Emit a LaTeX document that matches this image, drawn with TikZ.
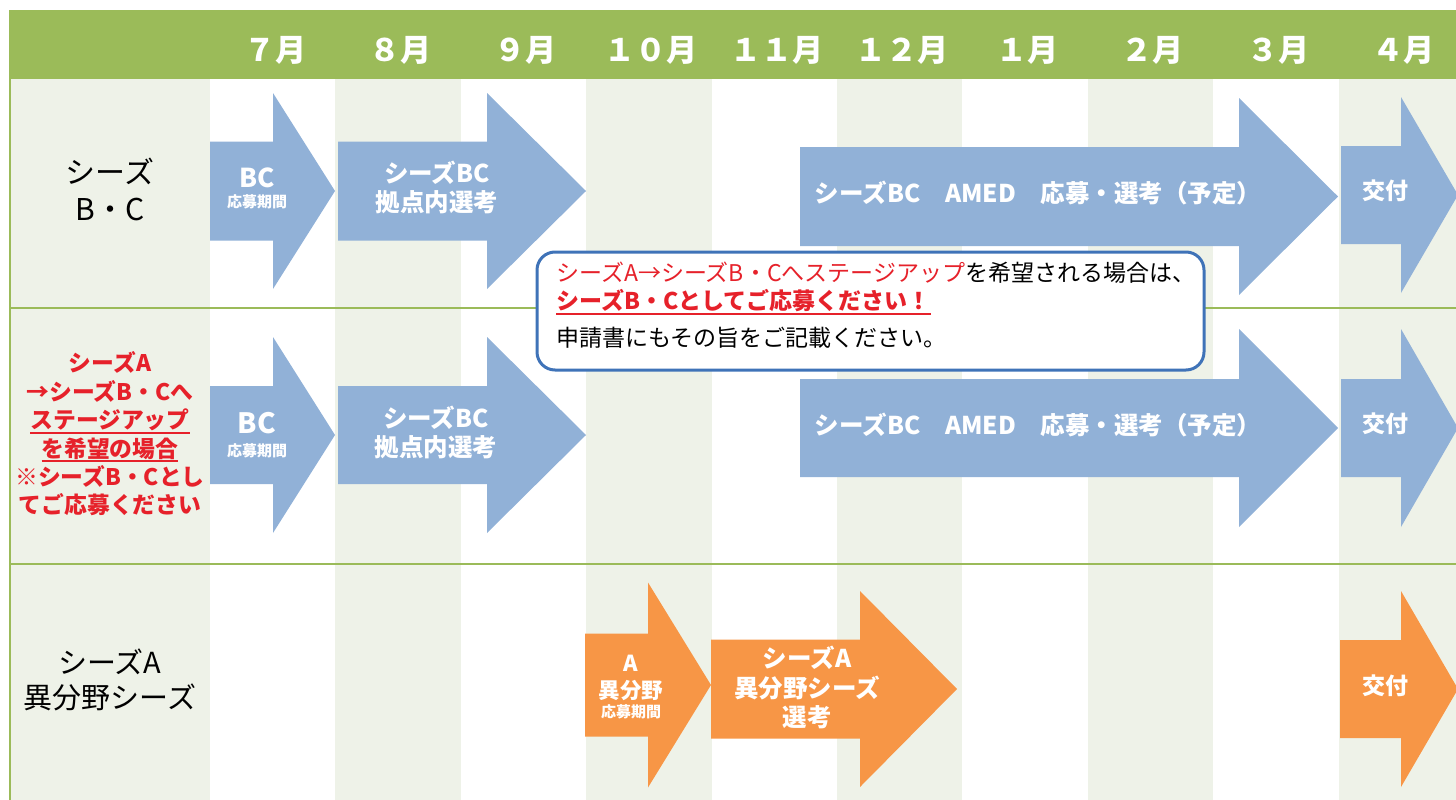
\documentclass[tikz,border=0pt]{standalone}
\usepackage{fontspec}
\setmainfont{Noto Sans CJK JP}

\definecolor{headgreen}{HTML}{9BBB59}
\definecolor{stripegray}{HTML}{EEF2E8}
\definecolor{bcblue}{HTML}{91B1D7}
\definecolor{aorange}{HTML}{F79646}
\definecolor{alertred}{HTML}{E6212A}
\definecolor{calloutblue}{HTML}{3F73B8}

% block arrow: colour, x start, x neck, x tip, y centre, half shaft, half head
\newcommand{\blockarrow}[7]{%
  \fill[#1] (#2,#5-#6) -- (#3,#5-#6) -- (#3,#5-#7) -- (#4,#5)
    -- (#3,#5+#7) -- (#3,#5+#6) -- (#2,#5+#6) -- cycle ;}
% thick red underline
\newcommand{\redul}[1]{\setbox0\hbox{#1}\rlap{\textcolor{alertred}{\rule[-5pt]{\wd0}{2pt}}}\box0}

\tikzset{
  month/.style={text=white,inner sep=0pt,font=\fontsize{31}{36}\selectfont\bfseries},
  rowlabel/.style={align=center,inner sep=0pt,font=\fontsize{30}{37}\selectfont},
  redlabel/.style={align=center,inner sep=0pt,text=alertred,font=\fontsize{22.8}{28.4}\selectfont\bfseries},
  arrowtext/.style={text=white,align=center,inner sep=0pt,font=\fontsize{24.5}{29.5}\selectfont\bfseries},
  bctext/.style={text=white,inner sep=0pt,font=\fontsize{26}{30}\selectfont\bfseries},
  smalltext/.style={text=white,inner sep=0pt,font=\fontsize{15}{17}\selectfont\bfseries},
  notetext/.style={anchor=west,inner sep=0pt,font=\fontsize{23}{27}\selectfont},
  callout/.style={draw=calloutblue,fill=white,line width=3pt,rounded corners=18pt},
  gridline/.style={headgreen,line width=2pt},
}

\begin{document}
\begin{tikzpicture}[x=1pt,y=-1pt]
  \useasboundingbox (0,0) rectangle (1456,800) ;
  \clip (0,0) rectangle (1456,800) ;
  % shaded columns
  \fill[stripegray] (11,79) rectangle (210,800) ;
  \foreach \c in {1,3,5,7,9}
    \fill[stripegray] ({210+125.4*\c},79) rectangle ({210+125.4*(\c+1)},800) ;
  % header
  \fill[headgreen] (9,10) rectangle (1456,79) ;
  \foreach \m [count=\i from 0] in {７月,８月,９月,１０月,１１月,１２月,１月,２月,３月,４月}
    \node[month] (m\i) at ({275+125.4*\i},50) {\m} ;
  % frame lines
  \draw[gridline] (10,79) -- (10,800) ;
  \draw[gridline] (9,308) -- (1456,308) ;
  \draw[gridline] (9,564) -- (1456,564) ;

  % row labels
  \node[rowlabel] (lblbc) at (110,189) {シーズ\\B・C} ;
  \node[redlabel] (lblup) at (110,434) {シーズA\\→シーズB・Cへ\\\redul{ステージアップ}\\\redul{を希望の場合}\\※シーズB・Cとし\\てご応募ください} ;
  \node[rowlabel,font=\fontsize{29}{35}\selectfont] (lbla) at (110,680) {シーズA\\異分野シーズ} ;

  % row 1
  \blockarrow{bcblue}{210}{273}{335}{191}{49.5}{98}
  \blockarrow{bcblue}{338}{487}{586}{191}{49.5}{98}
  \blockarrow{bcblue}{800}{1239}{1338}{196.5}{49.5}{98.5}
  \blockarrow{bcblue}{1341}{1401}{1458}{195}{49}{98}
  \node[bctext] (bc1) at (257,178) {BC} ;
  \node[smalltext] (bc1s) at (257,202) {応募期間} ;
  \node[arrowtext] (sel1) at (437,187.5) {シーズBC\\拠点内選考} ;
  \node[arrowtext] (amed1) at (1038,193) {シーズBC　AMED　応募・選考（予定）} ;
  \node[arrowtext,font=\fontsize{23}{28}\selectfont\bfseries] (kofu1) at (1385,191) {交付} ;

  % row 2
  \blockarrow{bcblue}{210}{273}{335}{435}{49}{98}
  \blockarrow{bcblue}{338}{487}{586}{435}{49}{98}
  \blockarrow{bcblue}{800}{1239}{1338}{428}{49}{99}
  \blockarrow{bcblue}{1341}{1401}{1458}{428}{49}{99}
  \node[bctext,font=\fontsize{28}{32}\selectfont\bfseries] (bc2) at (257,423) {BC} ;
  \node[smalltext] (bc2s) at (257,451) {応募期間} ;
  \node[arrowtext] (sel2) at (436,432.5) {シーズBC\\拠点内選考} ;
  \node[arrowtext] (amed2) at (1038,425) {シーズBC　AMED　応募・選考（予定）} ;
  \node[arrowtext,font=\fontsize{23}{28}\selectfont\bfseries] (kofu2) at (1385,424) {交付} ;

  % row 3
  \blockarrow{aorange}{585}{648}{711}{685}{51.5}{102.5}
  \blockarrow{aorange}{711}{860}{957}{689}{49.5}{98}
  \blockarrow{aorange}{1340}{1401}{1458}{689}{49}{98}
  \node[arrowtext,font=\fontsize{22}{28}\selectfont\bfseries] (a3) at (631,663) {A} ;
  \node[arrowtext,font=\fontsize{21.5}{26}\selectfont\bfseries] (a3f) at (631,690) {異分野} ;
  \node[smalltext] (a3s) at (631,712) {応募期間} ;
  \node[arrowtext] (sel3) at (807,687.5) {シーズA\\異分野シーズ\\選考} ;
  \node[arrowtext,font=\fontsize{23}{28}\selectfont\bfseries] (kofu3) at (1385,686) {交付} ;

  % note box
  \draw[callout] (537,252) rectangle (1204,370) ;
  \node[notetext] (note1) at (556,273) {\textcolor{alertred}{シーズA→シーズB・Cへステージアップ}を希望される場合は、} ;
  \node[notetext,text=alertred,font=\fontsize{23}{27}\selectfont\bfseries] (note2) at (556,302) {\redul{シーズB・Cとしてご応募ください！}} ;
  \node[notetext] (note3) at (556,338) {申請書にもその旨をご記載ください。} ;
\end{tikzpicture}
\end{document}
